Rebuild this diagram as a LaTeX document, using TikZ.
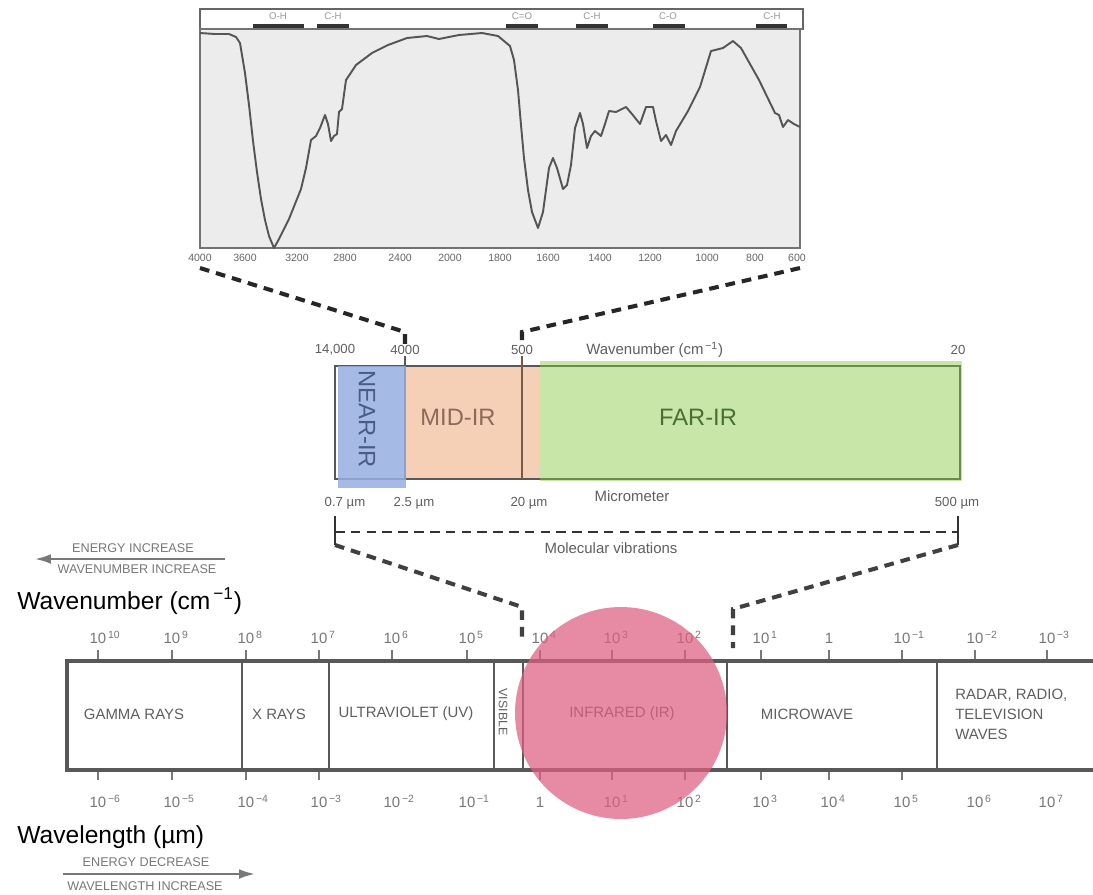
\documentclass[tikz,border=0pt]{standalone}
\usepackage{fontspec}
\setmainfont{Liberation Sans}
\usetikzlibrary{arrows.meta}

\definecolor{plotg}{RGB}{236,236,236}
\definecolor{curveg}{RGB}{85,85,85}
\definecolor{boxg}{RGB}{88,88,88}
\definecolor{txtg}{RGB}{95,95,95}
\definecolor{powg}{RGB}{120,120,120}
\definecolor{nearfill}{RGB}{150,176,226}
\definecolor{neartxt}{RGB}{72,92,135}
\definecolor{midfill}{RGB}{246,208,182}
\definecolor{midtxt}{RGB}{140,105,90}
\definecolor{midline}{RGB}{120,90,75}
\definecolor{farfill}{RGB}{200,230,168}
\definecolor{farline}{RGB}{105,140,75}
\definecolor{fartxt}{RGB}{75,110,50}
\definecolor{irpink}{RGB}{222,95,130}

\begin{document}
\begin{tikzpicture}[x=0.02cm,y=-0.02cm,>={Latex[length=9pt,width=5.5pt]},
  every node/.style={inner sep=0pt},
  bond/.style={font=\fontsize{5.5}{6}\selectfont,text=black!40},
  axis/.style={font=\fontsize{6}{6}\selectfont,text=black!60},
  lab/.style={font=\fontsize{7.5}{8}\selectfont,text=txtg},
  region/.style={font=\fontsize{13.5}{14}\selectfont},
  band/.style={font=\fontsize{8.5}{11.3}\selectfont,text=txtg},
  pow/.style={font=\fontsize{8.5}{9}\selectfont,text=powg,anchor=base},
  arrowcap/.style={font=\fontsize{7.2}{8}\selectfont,text=powg},
  big/.style={font=\fontsize{14}{16}\selectfont,anchor=base west},
  link/.style={line width=2.3pt,dash pattern=on 5.5pt off 4pt,draw=black!85},
  tickline/.style={draw=powg,line width=0.7pt}]

\useasboundingbox (0,0) rectangle (1093,894);
\fill[white] (0,0) rectangle (1093,894);

\draw[black!60,line width=0.8pt,fill=white] (200,9) rectangle (803,29);
\fill[black!80] (253,24) rectangle (304,28);
\fill[black!80] (317,24) rectangle (349,28);
\fill[black!80] (506,24) rectangle (538,28);
\fill[black!80] (576,24) rectangle (608,28);
\fill[black!80] (653,24) rectangle (685,28);
\fill[black!80] (756,24) rectangle (787,28);
\node[bond] (oh) at (278,16) {O-H};
\node[bond] (ch1) at (333,16) {C-H};
\node[bond] (co2) at (522,16) {C=O};
\node[bond] (ch2) at (592,16) {C-H};
\node[bond] (co1) at (668,16) {C-O};
\node[bond] (ch3) at (772,16) {C-H};
\draw[black!55,line width=0.6pt,fill=plotg] (200,29) rectangle (800,248);
\draw[black!55,line width=1.4pt] (200,29) -- (803,29);

\draw[curveg,line width=1.1pt,line join=round] (200,33) -- (215,34) -- (229,34) -- (236,37) -- (240,43)
  -- (245,73) -- (249,105) -- (253,141) -- (257,172) -- (261,199) -- (265,220) -- (269,236) -- (274,248)
  -- (279,239) -- (289,219) -- (301,189) -- (306,168) -- (311,140) -- (316,136) -- (320,128) -- (325,115)
  -- (328,124) -- (331,141) -- (334,136) -- (337,134) -- (339,112) -- (342,109) -- (346,80) -- (356,65)
  -- (372,53) -- (388,45) -- (407,38) -- (427,36) -- (439,39) -- (459,35) -- (482,33) -- (498,36)
  -- (510,46) -- (514,60) -- (518,90) -- (521,125) -- (524,158) -- (528,190) -- (532,212) -- (538,228)
  -- (543,212) -- (546,190) -- (549,168) -- (553,158) -- (557,168) -- (563,189) -- (567,185) -- (571,165)
  -- (575,128) -- (580,113) -- (583,124) -- (587,148) -- (591,136) -- (595,131) -- (601,136) -- (605,124)
  -- (609,111) -- (616,112) -- (620,110) -- (626,107) -- (632,114) -- (640,124) -- (646,107) -- (653,107)
  -- (656,121) -- (661,141) -- (666,135) -- (671,145) -- (676,131) -- (688,111) -- (700,87) -- (711,51)
  -- (723,48) -- (733,41) -- (741,48) -- (759,80) -- (775,113) -- (779,115) -- (783,127) -- (788,120)
  -- (794,124) -- (800,127);

\foreach \v/\x in {4000/200,3600/245,3200/297,2800/345,2400/400,2000/450,1800/500,1600/548,1400/600,1200/650,1000/707,800/755,600/797}
  \node[axis] (ax\v) at (\x,258) {\v};

\coordinate (specL) at (200,268);
\coordinate (specR) at (800,268);
\coordinate (kinkL) at (405,332);
\coordinate (kinkR) at (522,332);

\node[lab] (wn14000) at (335,350) {14,000};
\node[lab] (wn4000) at (405,350) {4000};
\node[lab] (wn500) at (522,350) {500};
\node[lab,font=\fontsize{8.5}{9}\selectfont,anchor=west] (wnunit) at (586,350) {Wavenumber (cm\textsuperscript{\,−1})};
\node[lab] (wn20) at (958,350) {20};
\draw[link] (specL) -- (kinkL) -- (wn4000.north);
\draw[link] (specR) -- (kinkR) -- (wn500.north);

\fill[midfill] (405,366) rectangle (540,479);
\draw[boxg,line width=1.6pt] (335,366) rectangle (960,479);
\fill[farfill] (540,361) rectangle (962,481);
\draw[farline,line width=1.6pt] (540,366) -- (960,366) -- (960,479) -- (540,479);
\draw[boxg,line width=1.3pt] (405,356) -- (405,479);
\draw[midline,line width=1.3pt] (522,356) -- (522,479);
\fill[nearfill,opacity=0.85] (338,366) rectangle (406,488);
\node[region,text=neartxt,rotate=-90] (near) at (367,419) {NEAR-IR};
\node[region,text=midtxt] (mid) at (458,417) {MID-IR};
\node[region,text=fartxt] (far) at (698,417) {FAR-IR};

\node[lab] (um07) at (345,503) {0.7 µm};
\node[lab] (um25) at (414,503) {2.5 µm};
\node[lab] (um20) at (529,503) {20 µm};
\node[lab,font=\fontsize{8.5}{9}\selectfont] (umunit) at (632,496) {Micrometer};
\node[lab] (um500) at (957,503) {500 µm};

\coordinate (vibL) at (335,516);
\coordinate (vibR) at (958,516);
\coordinate (vibLb) at (335,545);
\coordinate (vibRb) at (958,545);
\draw[black!80,line width=1.2pt] (vibL) -- (vibLb);
\draw[black!80,line width=1.2pt] (vibR) -- (vibRb);
\draw[black!80,line width=1.2pt,dash pattern=on 5.5pt off 3.5pt] (335,532) -- (958,532);
\node[lab,font=\fontsize{8.5}{9}\selectfont] (vib) at (611,548) {Molecular vibrations};

\coordinate (emkinkL) at (522,607);
\coordinate (emkinkR) at (733,609);
\coordinate (emIRL) at (522,642);
\coordinate (emIRR) at (733,648);
\draw[link,black!75] (vibLb) -- (emkinkL) -- (emIRL);
\draw[link,black!75] (vibRb) -- (emkinkR) -- (emIRR);

\node[arrowcap] (eninc) at (133,548) {ENERGY INCREASE};
\node[arrowcap] (wninc) at (137,569) {WAVENUMBER INCREASE};
\coordinate (incR) at (225,559);
\coordinate (incL) at (35,559);
\draw[->,powg,line width=1.2pt] (incR) -- (incL);
\node[big] (wntitle) at (17,609) {Wavenumber (cm\textsuperscript{\,−1})};

\foreach \x/\e in {98/10,172/9,246/8,319/7,392/6,467/5,540/4,612/3,685/2,761/1,902/{−1},975/{−2},1047/{−3}}{
  \draw[tickline] (\x,650) -- (\x,661);
  \node[pow] (up\x) at (\x,643) {10\rlap{\textsuperscript{\,\e}}};
}
\draw[tickline] (829,650) -- (829,661);
\node[pow] (up829) at (829,643) {1};

\foreach \x in {98,172,246,319,540,612,685,761,829,902}
  \draw[tickline] (\x,770) -- (\x,780);
\foreach \x/\e in {98/{−6},172/{−5},246/{−4},319/{−3},392/{−2},467/{−1},612/1,685/2,761/3,829/4,902/5,975/6,1047/7}
  \node[pow] (dn\x) at (\x,807) {10\rlap{\textsuperscript{\,\e}}};
\node[pow] (dn540) at (540,807) {1};

\draw[boxg,line width=2.3pt] (65,661) -- (1093,661);
\draw[boxg,line width=2.3pt] (65,770) -- (1093,770);
\draw[boxg,line width=1.8pt] (67,661) -- (67,770);
\foreach \x in {242,329,494,523,727,937}
  \draw[boxg,line width=1.6pt] (\x,661) -- (\x,770);

\node[band] (gamma) at (134,714) {GAMMA RAYS};
\node[band] (xray) at (279,714) {X RAYS};
\node[band] (uv) at (406,714) {ULTRAVIOLET (UV)};
\node[band,font=\fontsize{7}{8}\selectfont,rotate=-90] (vis) at (503,712) {VISIBLE};
\node[band] (ir) at (622,714) {INFRARED (IR)};
\node[band] (micro) at (807,714) {MICROWAVE};
\node[band,align=left,anchor=west] (radio) at (955,714) {RADAR, RADIO,\\TELEVISION\\WAVES};

\node[big] (wltitle) at (17,843) {Wavelength (µm)};
\node[arrowcap] (endec) at (146,862) {ENERGY DECREASE};
\node[arrowcap] (wlinc) at (145,886) {WAVELENGTH INCREASE};
\coordinate (decL) at (63,874);
\coordinate (decR) at (255,874);
\draw[->,powg,line width=1.2pt] (decL) -- (decR);

\fill[irpink,opacity=0.72] (621,713) circle [radius=2.12cm];

\end{tikzpicture}
\end{document}
